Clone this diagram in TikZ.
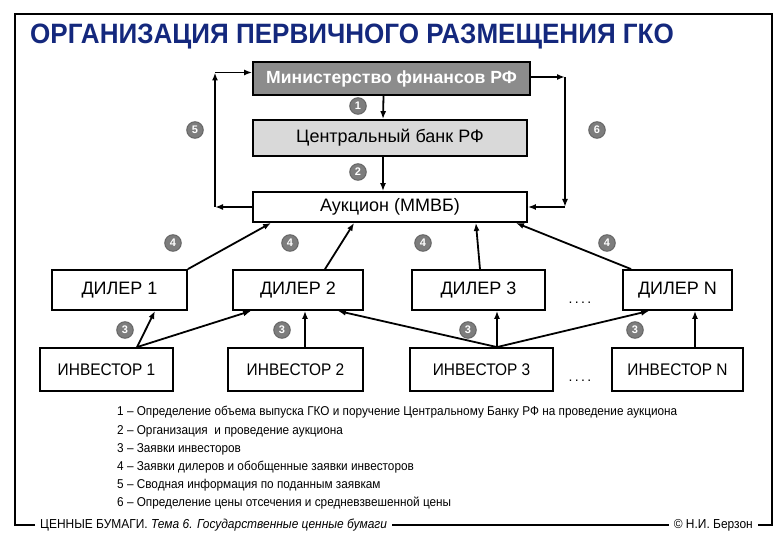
\documentclass[tikz,border=0pt]{standalone}
\usepackage{fontspec}
\setmainfont{Liberation Sans}
\newfontfamily\titlefont[FakeStretch=0.93]{Liberation Sans}
\newfontfamily\narrowfont[FakeStretch=0.92]{Liberation Sans}
\usetikzlibrary{arrows.meta,calc}
\definecolor{titleblue}{RGB}{20,40,125}
\definecolor{mingray}{RGB}{140,140,140}
\definecolor{cbgray}{RGB}{217,217,217}
\definecolor{numgray}{RGB}{125,125,125}
\tikzset{
    box/.style={draw, line width=1.8pt, inner sep=0pt, font=\fontsize{18}{20}\selectfont},
    invbox/.style={box, minimum height=43pt, font=\narrowfont\fontsize{16.8}{18}\selectfont},
    numc/.style={circle, fill=numgray, draw=black!60, line width=1pt, minimum size=16.5pt,
        inner sep=0pt, text=white, font=\bfseries\fontsize{11}{11}\selectfont},
    arr/.style={line width=1.8pt, -{Latex[length=8pt,width=6pt]}},
    legend/.style={anchor=west, inner sep=0pt, font=\narrowfont\fontsize{12.8}{14}\selectfont},
}
\begin{document}
\begin{tikzpicture}[x=1pt,y=-1pt]
    \useasboundingbox (0,0) rectangle (780,540);
    \node[anchor=west, inner sep=0pt, text=titleblue, font=\titlefont\bfseries\fontsize{28}{29}\selectfont]
        (title) at (30,37) {ОРГАНИЗАЦИЯ ПЕРВИЧНОГО РАЗМЕЩЕНИЯ ГКО};

    % top boxes
    \node[box, fill=mingray, text=white, minimum width=277pt, minimum height=33pt,
        font=\bfseries\fontsize{17.6}{20}\selectfont] (min) at (391.5,78.5) {Министерство финансов РФ};
    \node[box, fill=cbgray, minimum width=274pt, minimum height=36pt] (cb) at (390,138) {Центральный банк РФ};
    \node[box, fill=white, minimum width=274pt, minimum height=30pt] (auk) at (390,207) {Аукцион (ММВБ)};

    % dealers and investors
    \node[box, minimum width=135pt, minimum height=40pt] (d1) at (119.5,290) {ДИЛЕР 1};
    \node[box, minimum width=130pt, minimum height=40pt] (d2) at (298,290) {ДИЛЕР 2};
    \node[box, minimum width=133pt, minimum height=40pt] (d3) at (478.5,290) {ДИЛЕР 3};
    \node[box, minimum width=109pt, minimum height=40pt] (dN) at (677.5,290) {ДИЛЕР N};
    \node[invbox, minimum width=133pt] (i1) at (106.5,369.5) {ИНВЕСТОР 1};
    \node[invbox, minimum width=135pt] (i2) at (295.5,369.5) {ИНВЕСТОР 2};
    \node[invbox, minimum width=143pt] (i3) at (481.5,369.5) {ИНВЕСТОР 3};
    \node[invbox, minimum width=131pt] (iN) at (677.5,369.5) {ИНВЕСТОР N};
    \node[font=\fontsize{14}{14}\selectfont] (dots1) at (580,303) {.\,.\,.\,.};
    \node[font=\fontsize{14}{14}\selectfont] (dots2) at (580,381) {.\,.\,.\,.};

    % ministry -> bank -> auction
    \draw[arr] ($(min.south)+(-8,0)$) -- ($(cb.north)+(-7,0)$);
    \draw[arr] ($(cb.south)+(-7,0)$) -- ($(auk.north)+(-7,0)$);

    % loop 5
    \coordinate (l5b) at (215,207);
    \coordinate (l5t) at (215,72.5);
    \draw[arr] (auk.west) -- (l5b);
    \draw[arr] (l5b) -- (l5t);
    \draw[arr] (l5t) -- ($(min.west)+(0,-6)$);

    % loop 6
    \coordinate (r6t) at (565,77);
    \coordinate (r6b) at (565,207);
    \draw[arr] ($(min.east)+(0,-1.5)$) -- (r6t);
    \draw[arr] (r6t) -- (r6b);
    \draw[arr] (r6b) -- (auk.east);

    % dealers -> auction
    \draw[arr] (d1.north east) -- ($(auk.south west)+(19,0)$);
    \draw[arr] ($(d2.north)+(27,0)$) -- ($(auk.south west)+(102,0)$);
    \draw[arr] ($(d3.north)+(1.5,0)$) -- ($(auk.south east)+(-52,0)$);
    \draw[arr] ($(dN.north west)+(9,0)$) -- ($(auk.south east)+(-12,0)$);

    % investors -> dealers
    \draw[arr] ($(i1.north)+(30.5,0)$) -- ($(d1.south)+(35.5,0)$);
    \draw[arr] ($(i1.north)+(30.5,0)$) -- ($(d2.south west)+(19,0)$);
    \draw[arr] ($(i2.north)+(9.5,0)$) -- ($(d2.south)+(7,0)$);
    \draw[arr] ($(i3.north)+(15.5,0)$) -- ($(d2.south east)+(-26,0)$);
    \draw[arr] ($(i3.north)+(15.5,0)$) -- ($(d3.south)+(18.5,0)$);
    \draw[arr] ($(i3.north)+(15.5,0)$) -- ($(dN.south west)+(27,0)$);
    \draw[arr] ($(iN.north)+(17.5,0)$) -- ($(dN.south)+(17.5,0)$);

    % numbers
    \node[numc] (n1) at (358,106) {1};
    \node[numc] (n2) at (358,172) {2};
    \node[numc] (n5) at (195,130) {5};
    \node[numc] (n6) at (597,130) {6};
    \foreach \x [count=\i] in {173,290,423,607} {
        \node[numc] (n4\i) at (\x,243) {4};
    }
    \foreach \x [count=\i] in {125,282,468,635} {
        \node[numc] (n3\i) at (\x,330) {3};
    }

    % legend
    \node[legend] (l1) at (117,412) {1 – Определение объема выпуска ГКО и поручение Центральному Банку РФ на проведение аукциона};
    \node[legend] (l2) at (117,431) {2 – Организация \ и проведение аукциона};
    \node[legend] (l3) at (117,449) {3 – Заявки инвесторов};
    \node[legend] (l4) at (117,467) {4 – Заявки дилеров и обобщенные заявки инвесторов};
    \node[legend] (l5) at (117,485) {5 – Сводная информация по поданным заявкам};
    \node[legend] (l6) at (117,503) {6 – Определение цены отсечения и средневзвешенной цены};

    % frame and footer
    \node[anchor=west, inner sep=0pt, font=\narrowfont\fontsize{13}{14}\selectfont] (foot) at (40,525)
        {ЦЕННЫЕ БУМАГИ. \textit{Тема 6. Государственные ценные бумаги}};
    \node[anchor=east, inner sep=0pt, font=\narrowfont\fontsize{13}{14}\selectfont] (copy) at (753,525) {© Н.И. Берзон};
    \draw[line width=1.2pt] ($(foot.west)+(-5,0)$) -- (15,525) -- (15,14) -- (772,14) -- (772,525) -- ($(copy.east)+(5,0)$);
    \draw[line width=1.2pt] ($(foot.east)+(5,0)$) -- ($(copy.west)+(-5,0)$);
\end{tikzpicture}
\end{document}
